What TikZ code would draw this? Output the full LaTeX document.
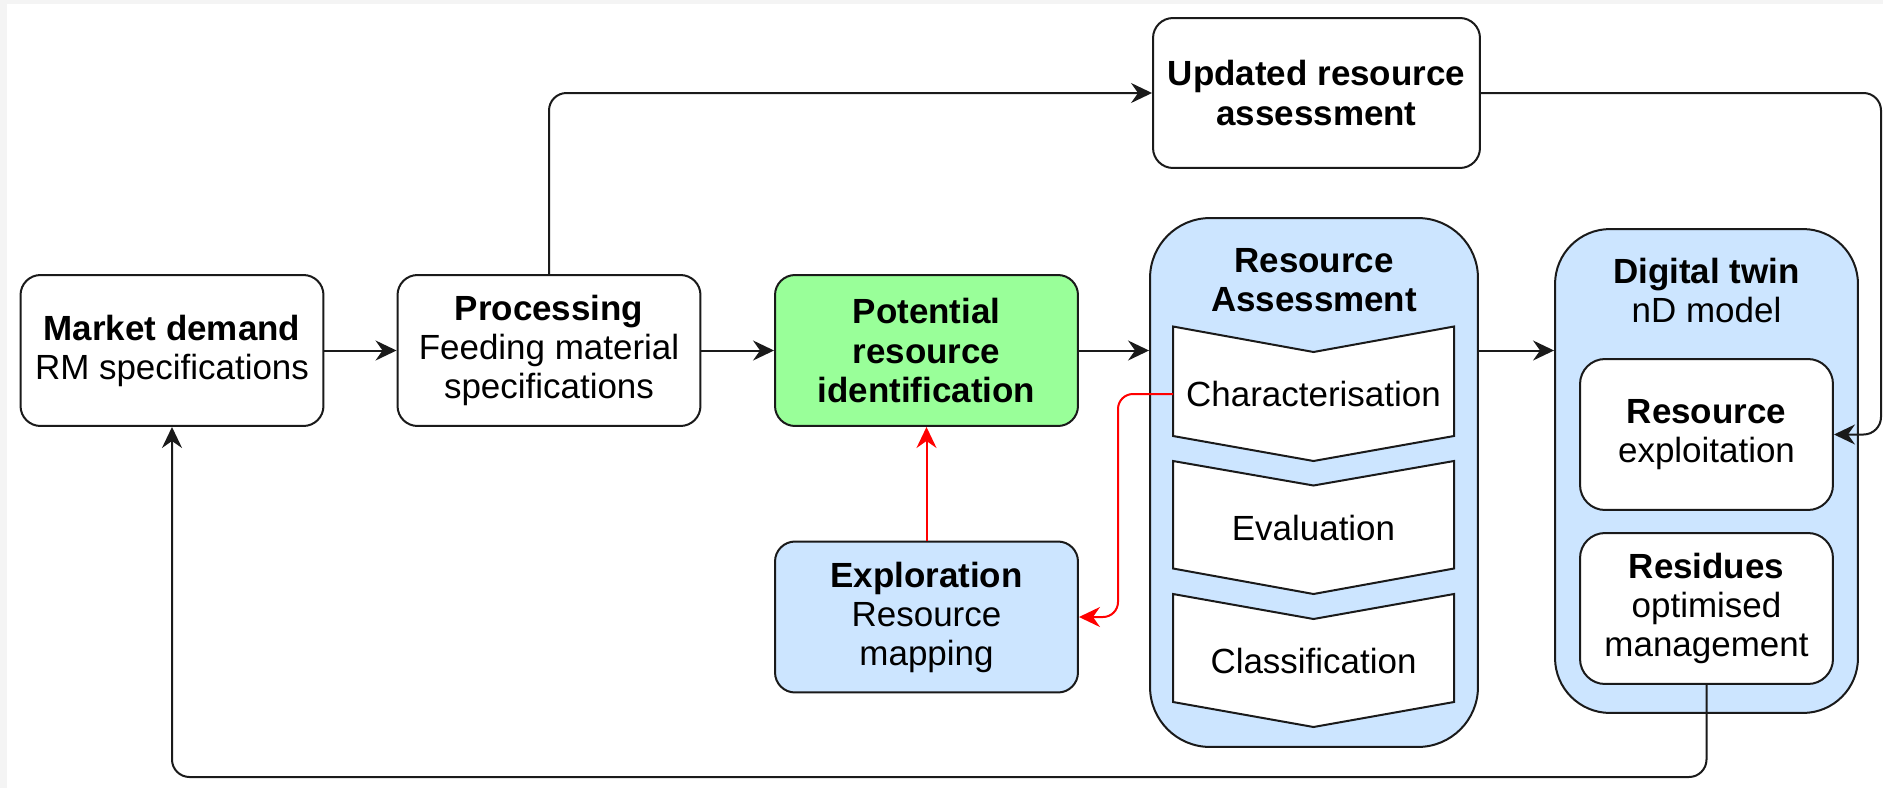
\documentclass[tikz,border=0pt]{standalone}
\usepackage{fontspec}
\setmainfont{Liberation Sans}
\usepackage{tikz}
\usetikzlibrary{shapes,arrows.meta,positioning}

\definecolor{lightblue}{HTML}{CCE5FF}
\definecolor{lightgreen}{HTML}{99FF99}
\definecolor{edge}{HTML}{1A1A1A}
\definecolor{frame}{HTML}{F4F4F4}

\begin{document}
\begin{tikzpicture}[x=0.02cm, y=-0.02cm, >={Stealth[length=0.42cm, width=0.4cm, inset=0.14cm]}]
			\tikzstyle{Box}		= [rectangle, draw=edge, line width=0.04cm, rounded corners=0.4cm, fill=white, align=center, inner sep=0pt, font=\fontsize{19.9pt}{22.2pt}\selectfont]
			\tikzstyle{Small}	= [Box, minimum width=6.06cm, minimum height=3.02cm]
			\tikzstyle{Big}		= [Box, rounded corners=1.2cm, fill=lightblue]
			\tikzstyle{Inner}	= [Box, rounded corners=0.5cm, minimum width=5.06cm, minimum height=3.02cm]
			\tikzstyle{Title}	= [align=center, inner sep=0pt, font=\fontsize{19.9pt}{22.2pt}\selectfont]
			\tikzstyle{Chev}	= [draw=edge, line width=0.04cm, fill=white, line join=miter]
			\tikzstyle{Line}	= [draw=edge, line width=0.04cm, rounded corners=0.35cm]
			\tikzstyle{RL}		= [red, line width=0.04cm, rounded corners=0.3cm]

			% page and margins
			\useasboundingbox (0,0) rectangle (1883,788);
			\fill [white] (0,0) rectangle (1883,788);
			\fill [frame] (0,0) rectangle (1883,4);
			\fill [frame] (0,0) rectangle (7,788);

			\node (market) at (172,350.5) [Small] {\textbf{Market demand}\\RM specifications};
			\node (proc) at (549,350.5) [Small] {\textbf{Processing}\\Feeding material\\specifications};
			\node (pot) at (926.5,350.5) [Small][fill=lightgreen] {\textbf{Potential}\\\textbf{resource}\\\textbf{identification}};
			\node (explo) at (926.5,617) [Small][fill=lightblue] {\textbf{Exploration}\\Resource\\mapping};
			\node (upd) at (1316.5,93) [Small][minimum width=6.54cm, minimum height=3cm] {\textbf{Updated resource}\\\textbf{assessment}};

			\node (ra) at (1314,482.5) [Big][minimum width=6.56cm, minimum height=10.58cm] {};
			\node (ratitle) at (1314,280) [Title] {\textbf{Resource}\\\textbf{Assessment}};
			\draw [Chev] (1173,326.5) -- (1313.5,352) -- (1454,326.5) -- (1454,436) -- (1313.5,461) -- (1173,436) -- cycle;
			\draw [Chev] (1173,461) -- (1313.5,485.5) -- (1454,461) -- (1454,568.5) -- (1313.5,594) -- (1173,568.5) -- cycle;
			\draw [Chev] (1173,594) -- (1313.5,619) -- (1454,594) -- (1454,702) -- (1313.5,727) -- (1173,702) -- cycle;
			\node (chara) at (1313.5,394) [Title] {Characterisation};
			\node (evalu) at (1313.5,528) [Title] {Evaluation};
			\node (class) at (1313.5,661) [Title] {Classification};
			\coordinate (c1) at (1173,394);

			\node (dt) at (1706.5,471) [Big][rounded corners=1.1cm, minimum width=6.06cm, minimum height=9.68cm] {};
			\node (dttitle) at (1706.5,290) [Title] {\textbf{Digital twin}\\nD model};
			\node (exploit) at (1706.5,434.5) [Inner] {\textbf{Resource}\\exploitation};
			\node (resid) at (1706.5,608.5) [Inner] {\textbf{Residues}\\optimised\\management};

			\coordinate (rt) at (1881,200);
			\coordinate (bt) at (900,777);

			\draw [->] (market) to (proc) [Line];
			\draw [->] (proc) to (pot) [Line];
			\draw [->] (pot.east) to (pot.east -| ra.west) [Line];
			\draw [->] (ra.east |- pot.east) to (dt.west |- pot.east) [Line];
			\draw [->, Line] (proc.north) |- (upd.west);
			\draw [->, Line] (upd.east) -| (rt) |- (exploit.east);
			\draw [->, Line] (resid.south) |- (bt) -| (market.south);
			\draw [->] (explo) to (pot) [RL];
			\draw [->, RL] (c1) -- ++(-55,0) |- (explo.east);
		\end{tikzpicture}
\end{document}
